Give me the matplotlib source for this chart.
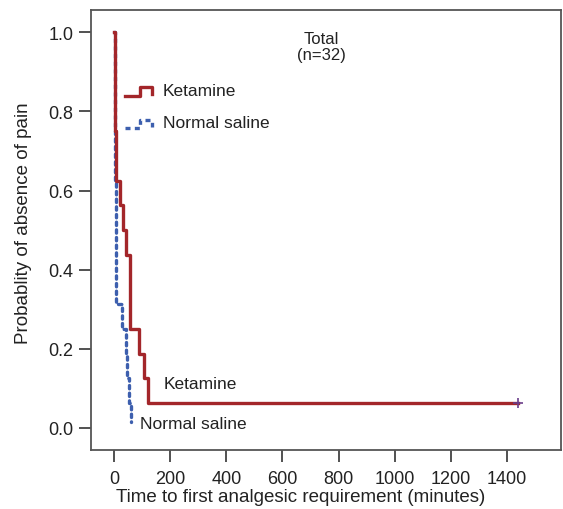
import matplotlib
matplotlib.use("Agg")
import matplotlib.pyplot as plt

plt.rcParams["font.family"] = ["Liberation Sans", "DejaVu Sans"]

# Kaplan-Meier step data (time in minutes, survival)
ket_time = [0, 3, 5, 8, 21, 31, 43, 57, 90, 107, 122, 1440]
ket_surv = [1.0, 0.875, 0.75, 0.625, 0.5625, 0.5, 0.4375, 0.25, 0.1875, 0.125, 0.0625, 0.0625]

ns_time = [0, 2, 4, 6, 8, 30, 42, 48, 55, 62]
ns_surv = [1.0, 0.8125, 0.625, 0.4375, 0.3125, 0.25, 0.1875, 0.125, 0.0625, 0.015]

x_ticks = [0, 200, 400, 600, 800, 1000, 1200, 1400]
y_ticks = [0.0, 0.2, 0.4, 0.6, 0.8, 1.0]

red = "#a3262a"
blue = "#3d5fae"
grey = "#555555"
txt = "#222222"

fig = plt.figure(figsize=(5.63, 5.10), dpi=100)
ax = fig.add_axes([0.1616, 0.1157, 0.8348, 0.8623])

ax.step(ns_time, ns_surv, where="post", color=blue, lw=2.4,
        linestyle=(0, (1.0, 1.3)), dash_capstyle="round")
ax.step(ket_time, ket_surv, where="post", color=red, lw=2.4)
ax.plot([ket_time[-1]], [ket_surv[-1]], marker="+", color="#6a3d8a",
        markersize=7, mew=1.2)

# legend glyphs drawn as small steps in axes coordinates
ax.plot([0.073, 0.104, 0.104, 0.13, 0.13], [0.806, 0.806, 0.826, 0.826, 0.81],
        transform=ax.transAxes, color=red, lw=2.4)
ax.plot([0.073, 0.104, 0.104, 0.13, 0.13], [0.732, 0.732, 0.75, 0.75, 0.735],
        transform=ax.transAxes, color=blue, lw=2.4,
        linestyle=(0, (1.5, 1.3)))
ax.text(0.153, 0.818, "Ketamine", transform=ax.transAxes, fontsize=12.5,
        va="center", color=txt)
ax.text(0.153, 0.745, "Normal saline", transform=ax.transAxes, fontsize=12.5,
        va="center", color=txt)

ax.text(175, 0.112, "Ketamine", fontsize=12.5, color=txt, va="center")
ax.text(93, 0.011, "Normal saline", fontsize=12.5, color=txt, va="center")
ax.text(740, 0.965, "Total\n(n=32)", fontsize=12, color=txt,
        ha="center", va="center", linespacing=1.1)

ax.set_xlim(-82, 1592)
ax.set_ylim(-0.056, 1.056)
ax.set_xticks(x_ticks)
ax.set_yticks(y_ticks)
ax.set_yticklabels([f"{v:.1f}" for v in y_ticks])
ax.tick_params(axis="both", direction="out", length=8.5, width=1.2,
               color="#333333", labelsize=13, labelcolor=txt)
ax.tick_params(axis="x", pad=6)
ax.tick_params(axis="y", pad=4)

for s in ax.spines.values():
    s.set_color(grey)
    s.set_linewidth(1.3)

ax.set_xlabel("Time to first analgesic requirement (minutes)", fontsize=13.5,
              color=txt)
ax.set_ylabel("Probablity of absence of pain", fontsize=13.5, color=txt)
ax.xaxis.set_label_coords(0.445, -0.086)
ax.yaxis.set_label_coords(-0.126, 0.518)

fig.savefig("out.png", dpi=100)
